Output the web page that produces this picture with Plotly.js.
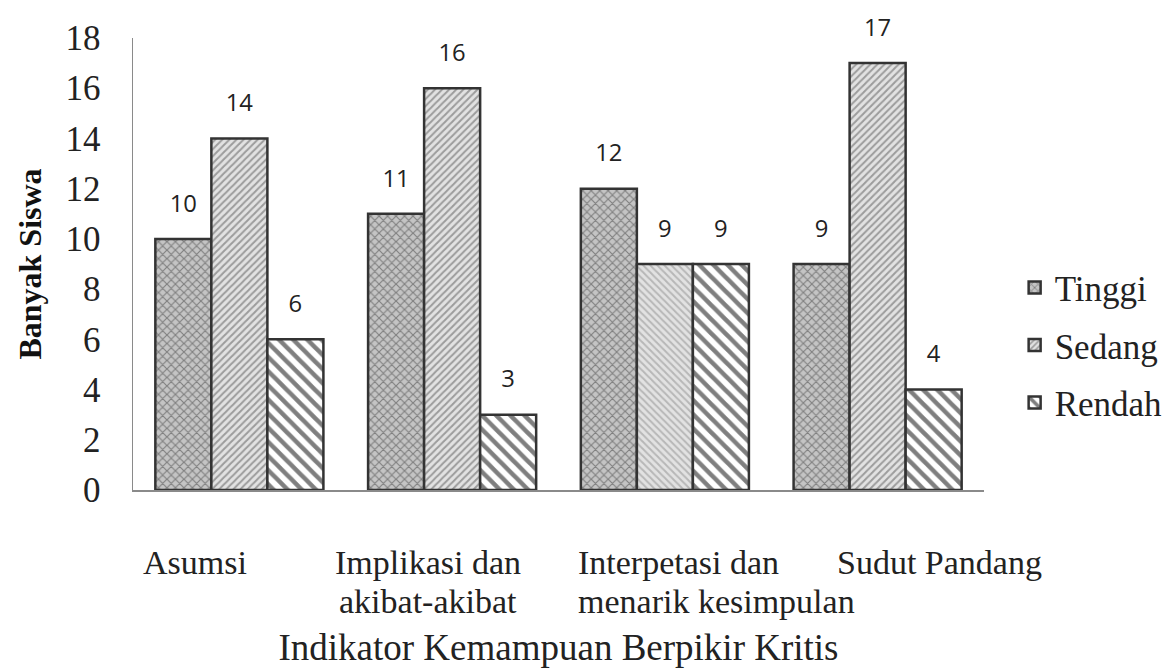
<!DOCTYPE html>
<html>
<head>
<meta charset="utf-8">
<script src="https://cdn.plot.ly/plotly-3.0.1.min.js"></script>
<style>html,body{margin:0;padding:0;background:#fff;}#chart{width:1169px;height:669px;}</style>
</head>
<body>
<div id="chart"></div>
<script>
// Categories and the lines in which each category label is written
const categories = ["Asumsi", "Implikasi dan akibat-akibat", "Interpetasi dan menarik kesimpulan", "Sudut Pandang"];
const categoryLines = [["Asumsi"], ["Implikasi dan", "akibat-akibat"], ["Interpetasi dan", "menarik kesimpulan"], ["Sudut Pandang"]];
const seriesNames = ["Tinggi", "Sedang", "Rendah"];
const tinggi = [10, 11, 12, 9];
const sedang = [14, 16, 9, 17];
const rendah = [6, 3, 9, 4];
const yTicks = [0, 2, 4, 6, 8, 10, 12, 14, 16, 18];

const serif = "Liberation Serif, Times New Roman, serif";
const sans = "Open Sans, Noto Sans, sans-serif";
const outline = {color: "#333333", width: 2.5};
const NB = "\u00A0";

// label placement style (as in the original Excel chart)
const labelStyle = [
  {xshift: -44, xanchor: "center"},
  {xshift: -24, xanchor: "center"},
  {xshift: -89, xanchor: "left"},
  {xshift: 62, xanchor: "center"}
];

function bar(name, values, pattern) {
  return {
    type: "bar", name: name, x: categories, y: values,
    legendgroup: name,
    text: values.map(v => NB + "<sup>" + v + "</sup>" + NB),
    texttemplate: "%{text}",
    textposition: "outside",
    constraintext: "none",
    textfont: {family: sans, size: 34, color: "#222"},
    cliponaxis: false,
    marker: {color: "#ffffff", line: outline, pattern: pattern},
    hoverinfo: "skip"
  };
}

const data = [
  bar(seriesNames[0], tinggi, {shape: "x", bgcolor: "#c4c4c4", fgcolor: "#3c3c3c", size: 6, solidity: 0.35, fillmode: "overlay"}),
  bar(seriesNames[1], sedang, {shape: ["/", "/", "\\", "/"], bgcolor: "#e2e2e2", fgcolor: ["#555555", "#555555", "#8c8c8c", "#555555"], size: 5, solidity: 0.4, fillmode: "overlay"}),
  bar(seriesNames[2], rendah, {shape: "\\", bgcolor: "#ffffff", fgcolor: "#000000", size: 10, solidity: 0.45, fillmode: "overlay"})
];

const annotations = [];
categoryLines.forEach((lines, i) => {
  lines.forEach((line, j) => {
    annotations.push({
      x: categories[i], y: 0, xref: "x", yref: "y",
      text: line, showarrow: false,
      xanchor: labelStyle[i].xanchor, yanchor: "top",
      xshift: labelStyle[i].xshift, yshift: -52 - 39 * j,
      font: {family: serif, size: 34, color: "#222"}
    });
  });
});

const layout = {
  width: 1169, height: 669,
  paper_bgcolor: "#fff", plot_bgcolor: "#fff",
  margin: {l: 133, r: 185, t: 38, b: 179, autoexpand: false},
  barmode: "group", bargap: 0.21, bargroupgap: 0,
  showlegend: true,
  legend: {x: 1.036, y: 0.32, xanchor: "left", yanchor: "middle", traceorder: "grouped",
           font: {family: serif, size: 35, color: "#222"},
           tracegroupgap: 9, bgcolor: "rgba(0,0,0,0)"},
  xaxis: {
    type: "category", range: [-0.5, categories.length - 0.5], autorange: false,
    showline: true, linecolor: "#8a8a8a", linewidth: 1.5, ticks: "", showgrid: false,
    showticklabels: false, automargin: false,
    title: {text: "Indikator Kemampuan Berpikir Kritis", font: {family: serif, size: 37, color: "#222"}, standoff: 143}
  },
  yaxis: {
    range: [0, 18], autorange: false, tickvals: yTicks, ticktext: yTicks.map(String),
    showline: true, linecolor: "#8a8a8a", linewidth: 1.5, ticks: "", showgrid: false, zeroline: false,
    automargin: false,
    tickfont: {family: serif, size: 35, color: "#222"},
    ticklabelstandoff: 24,
    title: {text: "<b>Banyak Siswa</b>", font: {family: serif, size: 32, color: "#111"}, standoff: 14}
  },
  annotations: annotations,
  font: {family: serif}
};

Plotly.newPlot("chart", data, layout, {displayModeBar: false, staticPlot: true});
</script>
</body>
</html>
